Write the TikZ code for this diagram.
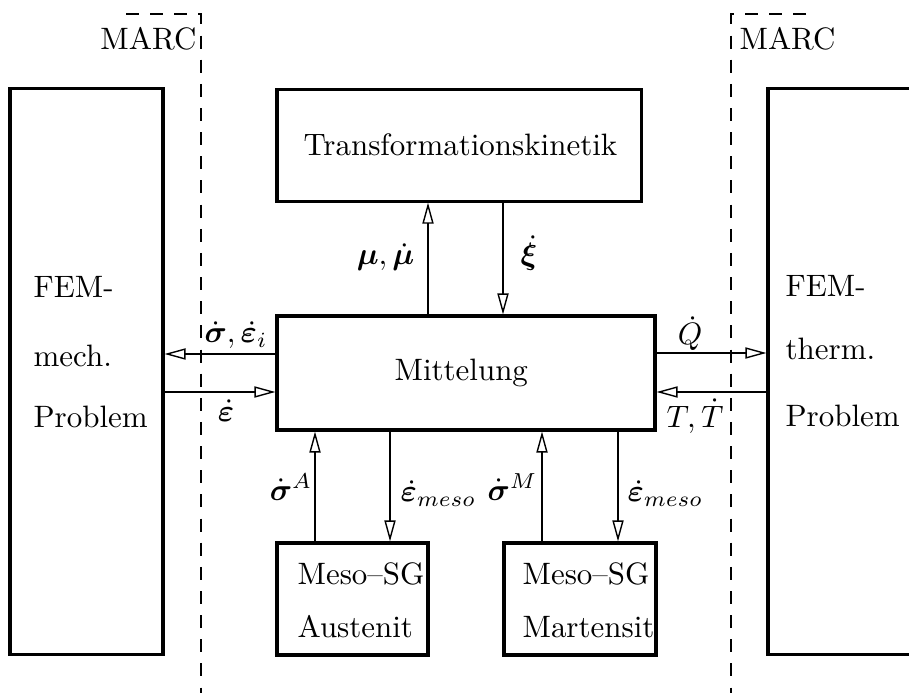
\documentclass[tikz,border=0pt]{standalone}
\usepackage{amsmath}
\usepackage{bm}
\usetikzlibrary{arrows.meta}

\begin{document}
\begin{tikzpicture}[x=0.323pt,y=-0.323pt,
  >={Triangle[open,length=6.8pt,width=3.6pt]},
  kasten/.style={draw,line width=1pt,inner sep=0pt},
  pfeil/.style={->,line width=0.45pt},
  marc/.style={line width=0.45pt,dash pattern=on 4.2pt off 3.6pt},
  txt/.style={anchor=base west,inner sep=0pt}]
  \clip (0,0) rectangle (909,693);
  % Kaesten
  \node[kasten,minimum width=49.4pt,minimum height=183.1pt] (mech) at (86.5,371.5) {};
  \node[kasten,minimum width=47.5pt,minimum height=183.1pt] (therm) at (841.5,371.5) {};
  \node[kasten,minimum width=117.6pt,minimum height=35.9pt] (kinetik) at (459,145.5) {};
  \node[kasten,minimum width=122.1pt,minimum height=36.8pt] (mittel) at (466,373) {};
  \node[kasten,minimum width=48.8pt,minimum height=36.2pt] (austenit) at (352.5,599) {};
  \node[kasten,minimum width=49.1pt,minimum height=36.2pt] (martensit) at (580,599) {};
  % Beschriftung der Kaesten
  \node[txt] (t1) at (33,298) {FEM-};
  \node[txt] (t2) at (33,367) {mech.};
  \node[txt] (t3) at (33,427) {Problem};
  \node[txt] (t4) at (785,297) {FEM-};
  \node[txt] (t5) at (785,360) {therm.};
  \node[txt] (t6) at (785,426) {Problem};
  \node[txt] (t7) at (303,156) {Transformationskinetik};
  \node[txt] (t8) at (394,381) {Mittelung};
  \node[txt] (t9) at (297,584) {Meso--SG};
  \node[txt] (t10) at (297,637) {Austenit};
  \node[txt] (t11) at (522,584) {Meso--SG};
  \node[txt] (t12) at (522,637) {Martensit};
  % MARC-Grenzen
  \draw[marc] (126,14) -- (201,14) -- (201,693);
  \draw[marc] (806,14) -- (731,14) -- (731,693);
  \node[anchor=base east,inner sep=0pt] (marcl) at (197,50) {MARC};
  \node[txt] (marcr) at (739,50) {MARC};
  % Pfeile links / rechts
  \draw[pfeil] (mittel.west |- 0,354) -- (mech.east |- 0,354);
  \draw[pfeil] (mech.east |- 0,392) -- (mittel.west |- 0,392);
  \draw[pfeil] (mittel.east |- 0,353) -- (therm.west |- 0,353);
  \draw[pfeil] (therm.west |- 0,392) -- (mittel.east |- 0,392);
  \node[anchor=base,inner sep=0pt] (l1) at (236,343) {$\dot{\bm\sigma},\dot{\bm\varepsilon}_i$};
  \node[anchor=base,inner sep=0pt] (l2) at (226,421) {$\dot{\bm\varepsilon}$};
  \node[anchor=base,inner sep=0pt] (l3) at (690,345) {$\dot{Q}$};
  \node[anchor=base,inner sep=0pt] (l4) at (695,427) {$T,\dot{T}$};
  % Pfeile oben
  \draw[pfeil] (mittel.north -| 428,0) -- (kinetik.south -| 428,0);
  \draw[pfeil] (kinetik.south -| 503,0) -- (mittel.north -| 503,0);
  \node[anchor=base east,inner sep=0pt] (l5) at (415,265) {$\bm\mu,\dot{\bm\mu}$};
  \node[txt] (l6) at (520,265) {$\dot{\bm\xi}$};
  % Pfeile unten
  \draw[pfeil] (austenit.north -| 315,0) -- (mittel.south -| 315,0);
  \draw[pfeil] (mittel.south -| 390,0) -- (austenit.north -| 390,0);
  \draw[pfeil] (martensit.north -| 542,0) -- (mittel.south -| 542,0);
  \draw[pfeil] (mittel.south -| 618,0) -- (martensit.north -| 618,0);
  \node[anchor=base east,inner sep=0pt] (l7) at (313,500) {$\dot{\bm\sigma}^A$};
  \node[txt] (l8) at (400,502) {$\dot{\bm\varepsilon}_{meso}$};
  \node[anchor=base east,inner sep=0pt] (l9) at (538,500) {$\dot{\bm\sigma}^M$};
  \node[txt] (l10) at (627,502) {$\dot{\bm\varepsilon}_{meso}$};
\end{tikzpicture}
\end{document}
